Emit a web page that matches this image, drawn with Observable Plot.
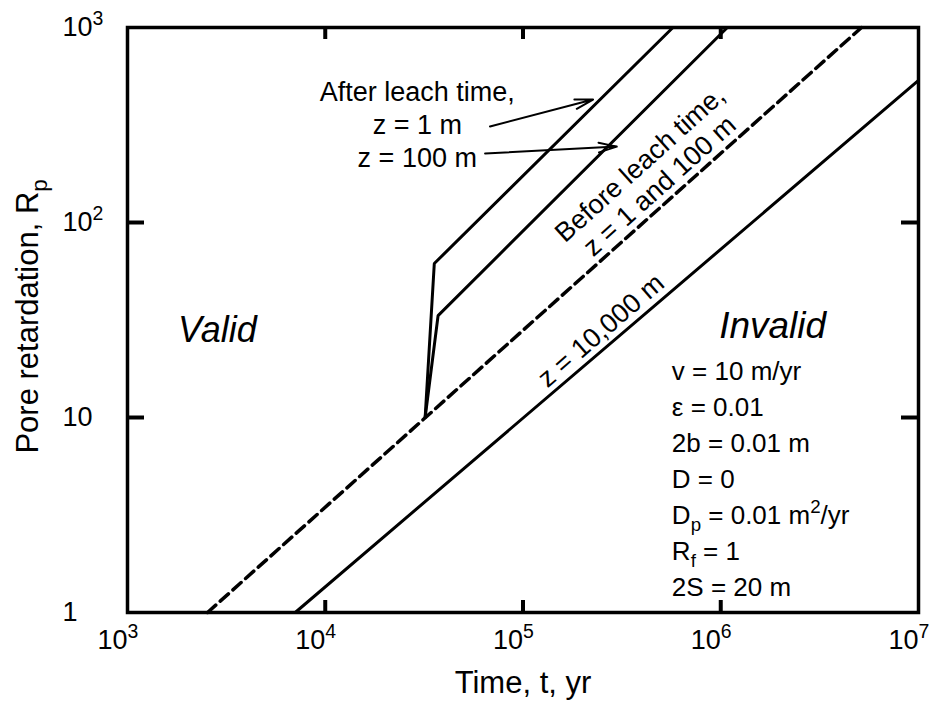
<!DOCTYPE html>
<html>
<head>
<meta charset="utf-8">
<script src="https://cdn.jsdelivr.net/npm/d3@7"></script>
<script src="https://cdn.jsdelivr.net/npm/@observablehq/plot@0.6"></script>
<style>
  html, body { margin: 0; padding: 0; background: #fff; }
  #chart svg { display: block; }
</style>
</head>
<body>
<div id="chart"></div>
<script>
// ---- data ----
const xTickValues = [1e3, 1e4, 1e5, 1e6, 1e7];
const yTickValues = [1, 10, 100, 1000];
const xTickLabels = ["10^{3}", "10^{4}", "10^{5}", "10^{6}", "10^{7}"];
const yTickLabels = ["1", "10", "10^{2}", "10^{3}"];

// Before leach time, z = 1 and 100 m (dashed)
const beforeT = [2540, 5.15e6];
const beforeRp = [1, 1000];
// After leach time, z = 1 m
const z1T = [32000, 35600, 573000];
const z1Rp = [10, 61.6, 1000];
// After leach time, z = 100 m
const z100T = [32000, 37200, 1.08e6];
const z100Rp = [10, 33.3, 1000];
// z = 10,000 m
const z10000T = [7050, 1e7];
const z10000Rp = [1, 535];

const paramLines = [
  "v = 10 m/yr",
  "ε = 0.01",
  "2b = 0.01 m",
  "D = 0",
  "D_{p} = 0.01 m^{2}/yr",
  "R_{f} = 1",
  "2S = 20 m"
];

// annotation arrows (data units)
const arrowStartT = [68100, 64300];
const arrowStartRp = [311, 226];
const arrowEndT = [226000, 298000];
const arrowEndRp = [427, 245];

// ---- build tables ----
const toRows = (T, R) => T.map((t, i) => ({t, rp: R[i]}));
const dashedRows = toRows(beforeT, beforeRp);
const solidRows = [
  ...toRows(z1T, z1Rp).map(d => ({...d, s: "z1"})),
  ...toRows(z100T, z100Rp).map(d => ({...d, s: "z100"})),
  ...toRows(z10000T, z10000Rp).map(d => ({...d, s: "z10000"}))
];
const arrows = arrowStartT.map((t, i) => ({x1: t, y1: arrowStartRp[i], x2: arrowEndT[i], y2: arrowEndRp[i]}));
const xTicks = xTickValues.map((v, i) => ({v, label: xTickLabels[i]}));
const yTicks = yTickValues.map((v, i) => ({v, label: yTickLabels[i]}));

// ---- layout ----
const W = 933, H = 706;
const mL = 127, mR = 15, mT = 27, mB = 94;
const pxPerDecX = (W - mL - mR) / 4;
const pxPerDecY = (H - mT - mB) / 3;
const tickLenH = 17, tickLenV = 12;
const fX = Math.pow(10, tickLenH / pxPerDecX);
const fY = Math.pow(10, tickLenV / pxPerDecY);
const innerX = xTickValues.slice(1, -1);
const innerY = yTickValues.slice(1, -1);
const FONT = "'Liberation Sans', Arial, Helvetica, sans-serif";

const chart = Plot.plot({
  width: W, height: H,
  marginLeft: mL, marginRight: mR, marginTop: mT, marginBottom: mB,
  style: {fontFamily: FONT, color: "#000", background: "#fff", overflow: "visible"},
  x: {type: "log", domain: [1e3, 1e7], axis: null},
  y: {type: "log", domain: [1, 1e3], axis: null},
  marks: [
    // inward ticks
    Plot.ruleX(innerX, {x: d => d, y1: 1, y2: fY, strokeWidth: 4}),
    Plot.ruleX(innerX, {x: d => d, y1: 1000 / fY, y2: 1000, strokeWidth: 4}),
    Plot.ruleY(innerY, {y: d => d, x1: 1e3, x2: 1e3 * fX, strokeWidth: 4}),
    Plot.ruleY(innerY, {y: d => d, x1: 1e7 / fX, x2: 1e7, strokeWidth: 4}),
    // curves
    Plot.line(dashedRows, {x: "t", y: "rp", stroke: "#000", strokeWidth: 3.5, strokeDasharray: "11,6"}),
    Plot.line(solidRows, {x: "t", y: "rp", z: "s", stroke: "#000", strokeWidth: 3, strokeLinejoin: "miter"}),
    Plot.frame({stroke: "#000", strokeWidth: 3.5}),
    // tick labels
    Plot.text(xTicks, {x: "v", text: "label", frameAnchor: "bottom", dy: 36, lineAnchor: "bottom",
      textAnchor: "start", dx: -30, fontSize: 27}),
    Plot.text(yTicks, {y: "v", text: "label", frameAnchor: "left", dx: -65, lineAnchor: "middle",
      textAnchor: "start", fontSize: 27}),
    // axis titles
    Plot.text(["Time, t, yr"], {frameAnchor: "bottom", dy: 80, lineAnchor: "bottom",
      textAnchor: "middle", fontSize: 31}),
    Plot.text(["Pore retardation, R_{p}"], {y: () => 33, frameAnchor: "left", dx: -90, rotate: -90,
      lineAnchor: "bottom", textAnchor: "middle", fontSize: 31}),
    // region labels
    Plot.text(["Valid"], {x: () => 2850, y: () => 24.5, lineAnchor: "bottom", textAnchor: "middle",
      fontSize: 36, fontStyle: "italic"}),
    Plot.text(["Invalid"], {x: () => 1.83e6, y: () => 25.5, lineAnchor: "bottom", textAnchor: "middle",
      fontSize: 37, fontStyle: "italic"}),
    // parameter block
    Plot.text([paramLines.join("\n")], {x: () => 566000, y: () => 1.22, lineAnchor: "bottom",
      textAnchor: "start", fontSize: 26, lineHeight: 1.385}),
    // after-leach labels and arrows
    Plot.text(["After leach time,\nz = 1 m\nz = 100 m"], {x: () => 29200, y: () => 191.5,
      lineAnchor: "bottom", textAnchor: "middle", fontSize: 27, lineHeight: 1.24}),
    Plot.arrow(arrows, {x1: "x1", y1: "y1", x2: "x2", y2: "y2", stroke: "#000", strokeWidth: 2,
      headLength: 14, headAngle: 30}),
    // rotated labels along the lines
    Plot.text(["Before leach time,\nz = 1 and 100 m"], {x: () => 436000, y: () => 176, rotate: -42,
      lineAnchor: "middle", textAnchor: "middle", fontSize: 27, lineHeight: 1.08}),
    Plot.text(["z = 10,000 m"], {x: () => 248000, y: () => 27.9, rotate: -41,
      lineAnchor: "middle", textAnchor: "middle", fontSize: 27})
  ]
});

document.getElementById("chart").appendChild(chart);

// convert ^{..} and _{..} markup into real super/subscript tspans
function richify(svg) {
  const NS = "http://www.w3.org/2000/svg";
  const walker = document.createTreeWalker(svg, NodeFilter.SHOW_TEXT);
  const nodes = [];
  while (walker.nextNode()) {
    if (/[\^_]\{/.test(walker.currentNode.nodeValue)) nodes.push(walker.currentNode);
  }
  for (const node of nodes) {
    const parent = node.parentNode;
    const fs = parseFloat(getComputedStyle(parent).fontSize) || 16;
    const parts = node.nodeValue.split(/([\^_]\{[^}]*\})/).filter(p => p);
    const frag = document.createDocumentFragment();
    let shift = 0;
    for (const p of parts) {
      const m = p.match(/^([\^_])\{([^}]*)\}$/);
      if (m) {
        const target = m[1] === "^" ? -0.4 * fs : 0.3 * fs;
        const t = document.createElementNS(NS, "tspan");
        t.setAttribute("dy", target - shift);
        t.setAttribute("font-size", 0.72 * fs);
        t.textContent = m[2];
        frag.appendChild(t);
        shift = target;
      } else if (shift) {
        const t = document.createElementNS(NS, "tspan");
        t.setAttribute("dy", -shift);
        t.textContent = p;
        frag.appendChild(t);
        shift = 0;
      } else {
        frag.appendChild(document.createTextNode(p));
      }
    }
    parent.replaceChild(frag, node);
  }
}
richify(chart);
</script>
</body>
</html>
